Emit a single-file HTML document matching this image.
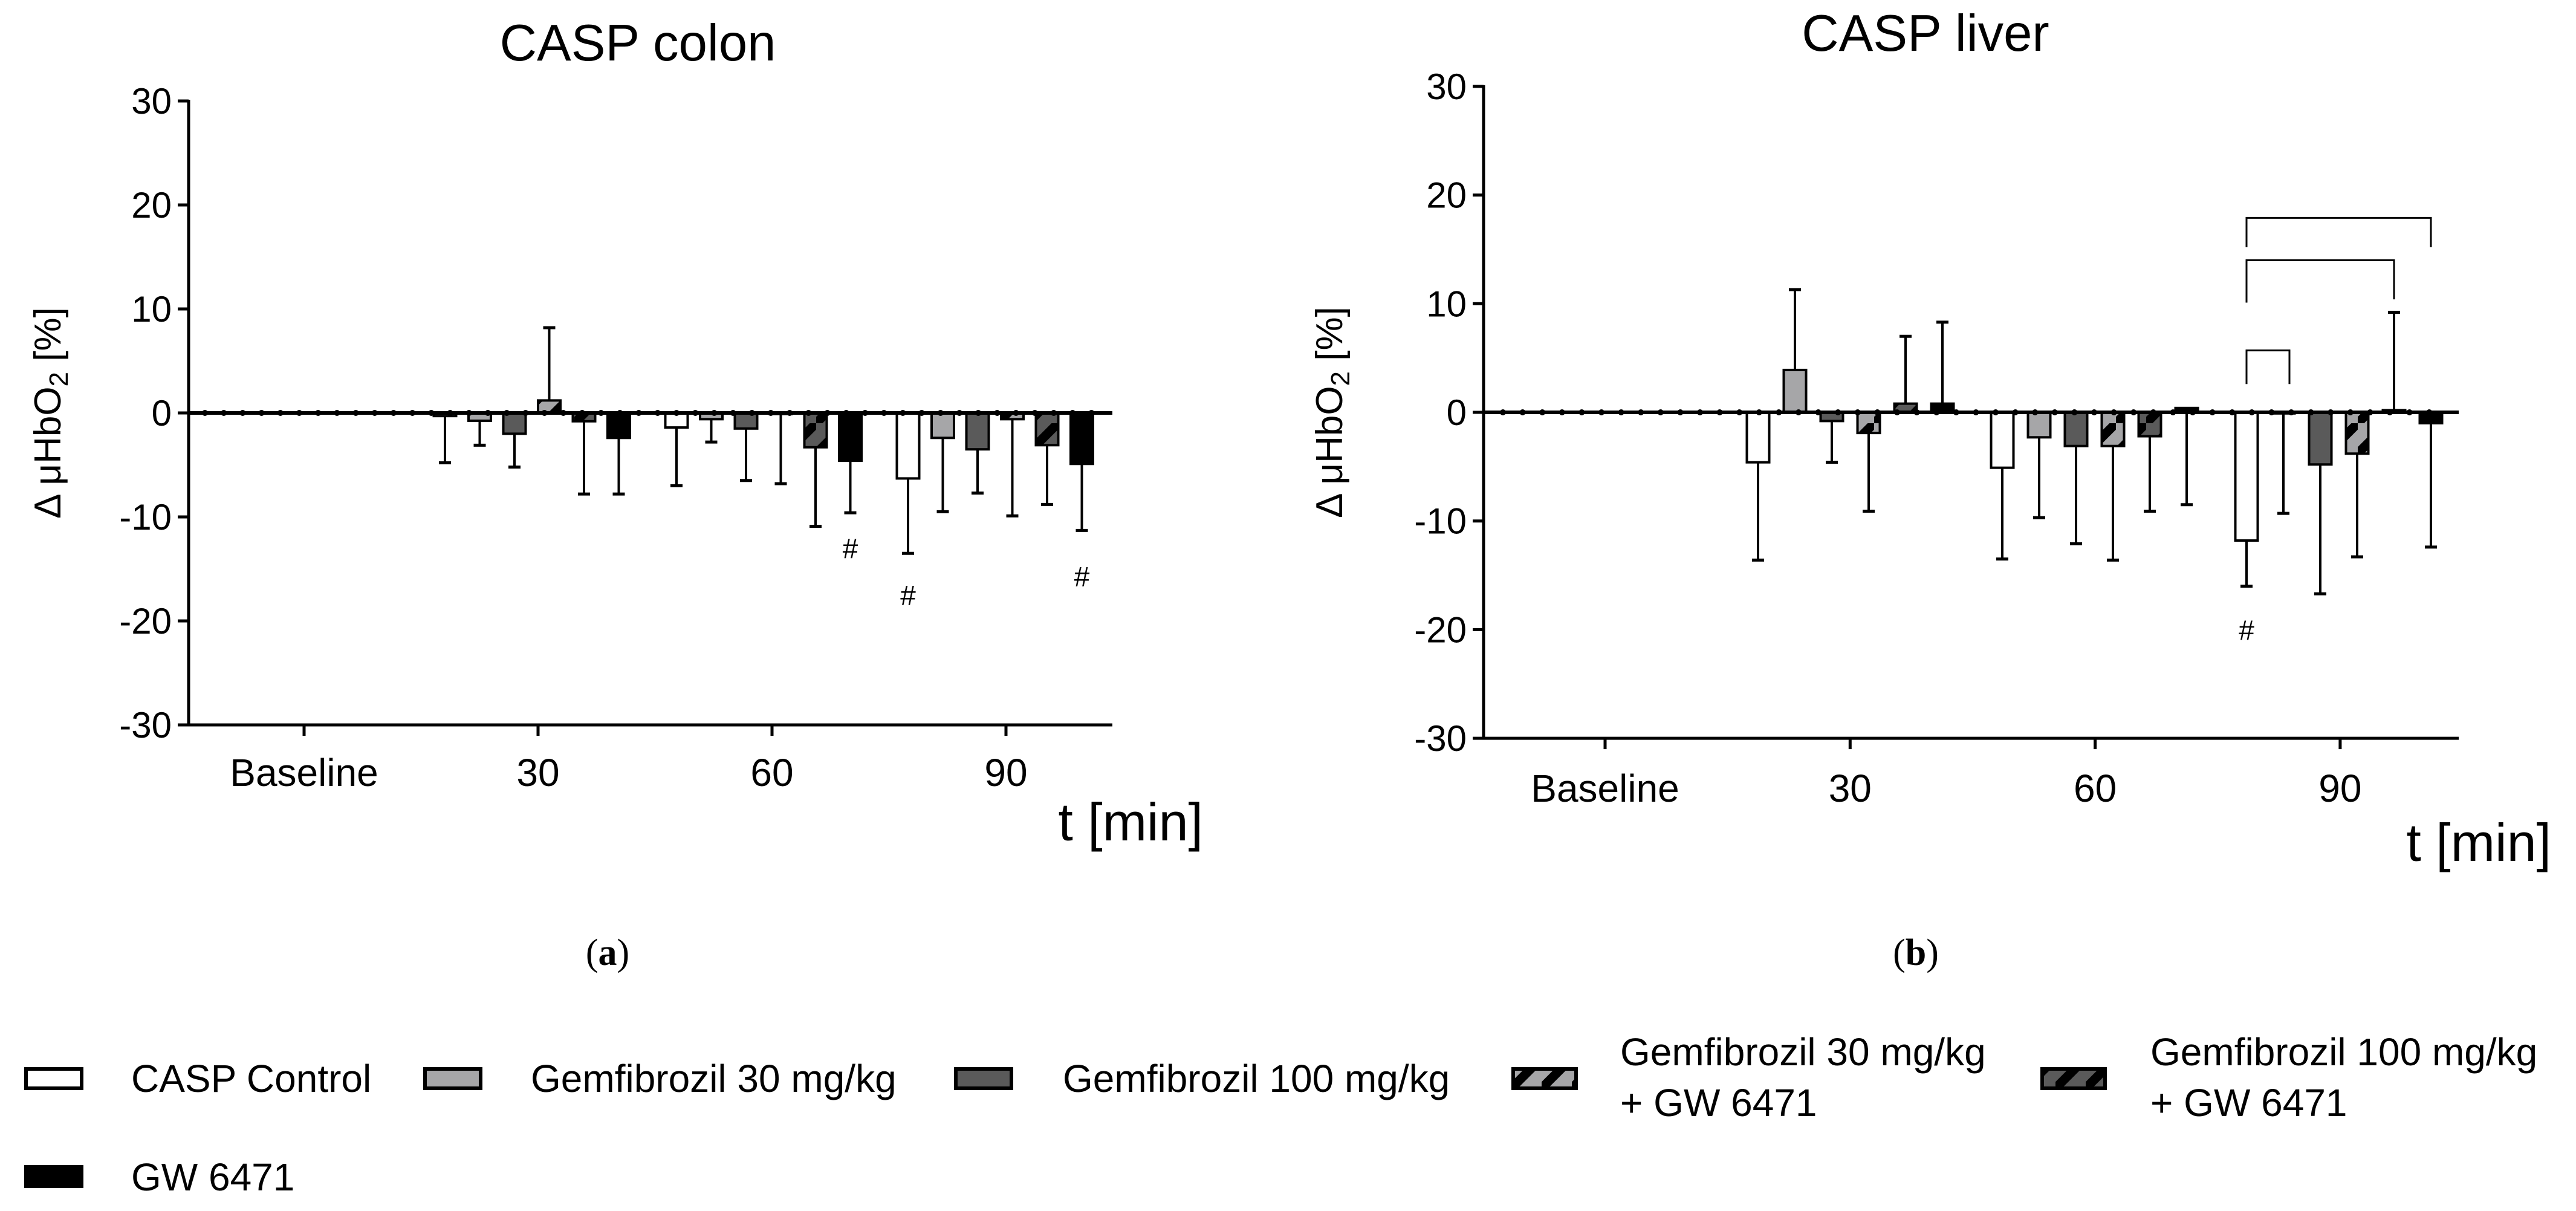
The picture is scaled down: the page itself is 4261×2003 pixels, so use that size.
<!DOCTYPE html>
<html><head><meta charset="utf-8"><style>
html,body{margin:0;padding:0;background:#fff;}
svg{display:block;font-family:"Liberation Sans",Arial,sans-serif;}
</style></head><body>
<svg id="fig" width="4261" height="2003" viewBox="0 0 4261 2003" xmlns="http://www.w3.org/2000/svg">
<defs>
<pattern id="hatchLight" patternUnits="userSpaceOnUse" width="50" height="50">
<rect width="50" height="50" fill="#a6a6a8"/><path d="M-6,56 L56,-6" stroke="#000" stroke-width="15"/>
</pattern>
<pattern id="hatchDark" patternUnits="userSpaceOnUse" width="50" height="50">
<rect width="50" height="50" fill="#5a5a5a"/><path d="M-6,56 L56,-6" stroke="#000" stroke-width="15"/>
</pattern>
</defs>
<g id="chartA"></g>
<g id="chartB"></g>
<text x="1005" y="1596" font-family="Liberation Serif,serif" font-size="62" text-anchor="middle">(<tspan font-weight="bold">a</tspan>)</text>
<text x="3169" y="1596" font-family="Liberation Serif,serif" font-size="62" text-anchor="middle">(<tspan font-weight="bold">b</tspan>)</text>
<g id="legend" font-size="64">
<g><rect x="43" y="1768" width="92" height="32" fill="#fff" stroke="#000" stroke-width="6"/><text x="217" y="1806">CASP Control</text></g>
<g><rect x="703" y="1768" width="92" height="32" fill="#a6a6a8" stroke="#000" stroke-width="6"/><text x="878" y="1806">Gemfibrozil 30 mg/kg</text></g>
<g><rect x="1581" y="1768" width="92" height="32" fill="#5a5a5a" stroke="#000" stroke-width="6"/><text x="1758" y="1806">Gemfibrozil 100 mg/kg</text></g>
<g><rect x="2503" y="1768" width="104" height="32" fill="url(#hatchLight)" stroke="#000" stroke-width="6"/><text x="2680" y="1762">Gemfibrozil 30 mg/kg</text><text x="2680" y="1846">+ GW 6471</text></g>
<g><rect x="3378" y="1768" width="104" height="32" fill="url(#hatchDark)" stroke="#000" stroke-width="6"/><text x="3557" y="1762">Gemfibrozil 100 mg/kg</text><text x="3557" y="1846">+ GW 6471</text></g>
<g><rect x="43" y="1930" width="92" height="32" fill="#000" stroke="#000" stroke-width="6"/><text x="217" y="1969">GW 6471</text></g>
</g>
</svg>
<script>
const NS = "http://www.w3.org/2000/svg";
const seriesNames = ["casp-control","gemfibrozil-30","gemfibrozil-100","gemfibrozil-30-gw","gemfibrozil-100-gw","gw6471"];
const seriesFills = ["#fff","#a6a6a8","#5a5a5a","url(#hatchLight)","url(#hatchDark)","#000"];
const xTickLabels = ["Baseline","30","60","90"];
const yTicks = [30,20,10,0,-10,-20,-30];
// colon: means per group [g][series], error-bar ends
const colonMeans = [[-0.3,-0.75,-2.0,1.2,-0.8,-2.4],[-1.4,-0.6,-1.5,-0.1,-3.3,-4.6],[-6.3,-2.4,-3.5,-0.6,-3.1,-4.9]];
const colonErrEnd = [[-4.8,-3.1,-5.2,8.2,-7.8,-7.8],[-7.0,-2.8,-6.5,-6.8,-10.9,-9.6],[-13.5,-9.5,-7.7,-9.9,-8.8,-11.3]];
const colonHash = [[1,5,-13],[2,0,-17.5],[2,5,-15.7]];
// liver
const liverMeans = [[-4.6,3.9,-0.8,-1.9,0.8,0.8],[-5.1,-2.3,-3.1,-3.1,-2.2,0.4],[-11.8,-0.1,-4.8,-3.8,0.2,-1.0]];
const liverErrEnd = [[-13.6,11.3,-4.6,-9.1,7.0,8.3],[-13.5,-9.7,-12.1,-13.6,-9.1,-8.5],[-16.0,-9.3,-16.7,-13.3,9.2,-12.4]];
const liverHash = [[2,0,-20]];
// brackets: group, fromSeries, toSeries, barY, leftLegEnd, rightLegEnd
const liverBrackets = [[2,0,5,17.9,15.2,15.2],[2,0,4,14.0,10.1,10.4],[2,0,1,5.7,2.6,2.6]];

function el(parent, tag, attrs, text){
  const e = document.createElementNS(NS, tag);
  for (const k in attrs) e.setAttribute(k, attrs[k]);
  if (text !== undefined) e.textContent = text;
  parent.appendChild(e);
  return e;
}

function drawChart(root, cfg, means, errs, hashes, brackets){
  const y = v => cfg.y0 - v * cfg.unit;
  const xb = (g, s) => cfg.g0 + g * cfg.gs + s * cfg.bs;
  const t = el(root,'text',{x:cfg.titleX,y:cfg.titleY,'font-size':85,'text-anchor':'middle'},cfg.title);
  
  
  const ya = el(root,'line',{x1:cfg.ax,y1:y(30)-2,x2:cfg.ax,y2:y(-30)+2,stroke:'#000','stroke-width':5});
  
  
  yTicks.forEach(v=>{
    const tk = el(root,'line',{x1:cfg.ax-18,y1:y(v),x2:cfg.ax,y2:y(v),stroke:'#000','stroke-width':5});
    
    
    const lb = el(root,'text',{x:cfg.ax-28,y:y(v)+21,'font-size':60,'text-anchor':'end'},String(v));
    
    
  });
  const xa = el(root,'line',{x1:cfg.ax,y1:y(-30),x2:cfg.xEnd,y2:y(-30),stroke:'#000','stroke-width':5});
  
  
  xTickLabels.forEach((l,i)=>{
    const px = cfg.tick0 + i*cfg.tickStep;
    const tk = el(root,'line',{x1:px,y1:y(-30),x2:px,y2:y(-30)+18,stroke:'#000','stroke-width':5});
    
    
    const lb = el(root,'text',{x:px,y:cfg.tickLabelY,'font-size':64,'text-anchor':'middle'},l);
    
    
  });
  const xt = el(root,'text',{x:cfg.xTitleX,y:cfg.xTitleY,'font-size':88,'text-anchor':'end'},'t [min]');
  
  
  const yt = el(root,'text',{x:0,y:0,'font-size':62,'text-anchor':'middle',transform:`translate(${cfg.yTitleX},${cfg.y0}) rotate(-90)`});
  
  
  yt.innerHTML = 'Δ μHbO<tspan font-size="44" dy="12">2</tspan><tspan dy="-12"> [%]</tspan>';
  means.forEach((grp,g)=>grp.forEach((m,s)=>{
    const cx = xb(g,s), w = cfg.bw;
    const e = errs[g][s];
    const eb = el(root,'line',{x1:cx,y1:y(m),x2:cx,y2:y(e),stroke:'#000','stroke-width':4});
    
    
    const cap = el(root,'line',{x1:cx-10,y1:y(e),x2:cx+10,y2:y(e),stroke:'#000','stroke-width':5});
    
    
    const top = Math.min(y(m),y(0)), h = Math.max(Math.abs(y(m)-y(0)),1);
    const r = el(root,'rect',{x:cx-w/2,y:top,width:w,height:h,fill:seriesFills[s],stroke:'#000','stroke-width':4});
    
    
  }));
  const zl = el(root,'line',{x1:cfg.ax,y1:y(0),x2:cfg.xEnd,y2:y(0),stroke:'#000','stroke-width':6});
  
  
  for (let px = cfg.dot0; px <= cfg.dotEnd; px += cfg.dotStep){
    const d = el(root,'circle',{cx:px,cy:y(0),r:5,fill:'#000'});
    
    
  }
  hashes.forEach(h=>{
    const ht = el(root,'text',{x:xb(h[0],h[1]),y:y(h[2])+17,'font-size':46,'text-anchor':'middle'},'#');
    
    
  });
  (brackets||[]).forEach(b=>{
    const x1 = xb(b[0],b[1]), x2 = xb(b[0],b[2]) + (b[2]-b[1]===1?10:0);
    const p = el(root,'path',{d:`M${x1},${y(b[4])} L${x1},${y(b[3])} L${x2},${y(b[3])} L${x2},${y(b[5])}`,fill:'none',stroke:'#000','stroke-width':3});
    
    
  });
}

drawChart(document.getElementById('chartA'),
  {title:'CASP colon',titleX:1055,titleY:100,ax:312,xEnd:1840,y0:683,unit:17.2,g0:736,gs:383,bs:57.5,bw:37,
   tick0:503,tickStep:387,tickLabelY:1300,xTitleX:1990,xTitleY:1390,yTitleX:100,dot0:339,dotEnd:1820,dotStep:31.2},
  colonMeans, colonErrEnd, colonHash, []);
drawChart(document.getElementById('chartB'),
  {title:'CASP liver',titleX:3185,titleY:84,ax:2454,xEnd:4067,y0:682,unit:17.97,g0:2908,gs:404,bs:61,bw:37,
   tick0:2655,tickStep:405.3,tickLabelY:1326,xTitleX:4220,xTitleY:1424,yTitleX:2220,dot0:2486,dotEnd:4045,dotStep:32.6},
  liverMeans, liverErrEnd, liverHash, liverBrackets);
</script>
</body></html>
